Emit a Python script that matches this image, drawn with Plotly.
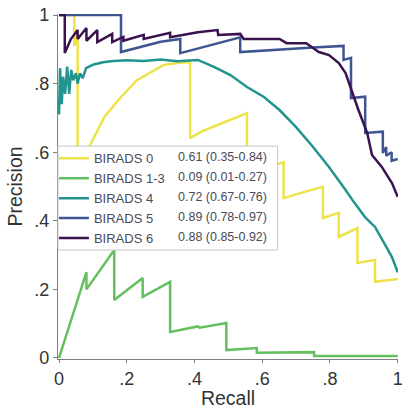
import plotly.graph_objects as go

# ---------------- data ----------------
tick_vals = [0, 0.2, 0.4, 0.6, 0.8, 1.0]
tick_text = ["0", ".2", ".4", ".6", ".8", "1"]

series_names = ["BIRADS 0", "BIRADS 1-3", "BIRADS 4", "BIRADS 5", "BIRADS 6"]
auc_labels = ["0.61 (0.35-0.84)", "0.09 (0.01-0.27)", "0.72 (0.67-0.76)",
              "0.89 (0.78-0.97)", "0.88 (0.85-0.92)"]
colors = ["#eee24a", "#64c05e", "#22948f", "#3f5592", "#3b1250"]

recall_b0 = [0, 0.045, 0.045, 0.055, 0.055, 0.084, 0.134, 0.183, 0.23, 0.308, 0.35, 0.387,
             0.387, 0.42, 0.47, 0.51, 0.555, 0.555, 0.60, 0.663, 0.663, 0.72, 0.779,
             0.779, 0.826, 0.826, 0.881, 0.881, 0.933, 0.933, 1.0]
prec_b0 = [1, 1, 0.91, 0.94, 0.51, 0.606, 0.703, 0.761, 0.81, 0.854, 0.86, 0.863,
           0.641, 0.66, 0.68, 0.697, 0.714, 0.53, 0.55, 0.571, 0.466, 0.483, 0.499,
           0.408, 0.423, 0.353, 0.379, 0.277, 0.286, 0.222, 0.23]

recall_b13 = [0, 0.081, 0.081, 0.163, 0.163, 0.247, 0.247, 0.328, 0.328, 0.41, 0.415,
              0.494, 0.494, 0.584, 0.584, 0.753, 0.753, 1.0]
prec_b13 = [0, 0.25, 0.20, 0.315, 0.169, 0.233, 0.178, 0.222, 0.076, 0.092, 0.088,
            0.102, 0.023, 0.029, 0.015, 0.017, 0.006, 0.006]

recall_b4 = [0, 0.003, 0.008, 0.012, 0.018, 0.024, 0.03, 0.036, 0.042, 0.05, 0.055, 0.062,
             0.07, 0.08, 0.1, 0.13, 0.16, 0.2, 0.25, 0.3, 0.35, 0.41, 0.459, 0.506, 0.555,
             0.605, 0.651, 0.70, 0.75, 0.797, 0.846, 0.866, 0.904, 0.933, 0.96, 0.983, 1.0]
prec_b4 = [0.71, 0.845, 0.74, 0.82, 0.77, 0.85, 0.77, 0.84, 0.81, 0.83, 0.80, 0.83,
           0.816, 0.845, 0.855, 0.862, 0.866, 0.868, 0.866, 0.87, 0.865, 0.869, 0.848,
           0.825, 0.79, 0.761, 0.723, 0.673, 0.615, 0.557, 0.49, 0.461, 0.41, 0.382,
           0.335, 0.294, 0.25]

recall_b5 = [0, 0.183, 0.183, 0.25, 0.30, 0.358, 0.358, 0.42, 0.48, 0.535, 0.535, 0.65,
             0.75, 0.84, 0.84, 0.862, 0.862, 0.904, 0.904, 0.956, 0.956, 0.966, 0.966,
             0.982, 0.982, 1.0]
prec_b5 = [1, 1, 0.892, 0.91, 0.922, 0.93, 0.889, 0.905, 0.92, 0.935, 0.892, 0.9,
           0.905, 0.91, 0.869, 0.875, 0.758, 0.762, 0.656, 0.66, 0.598, 0.615, 0.59,
           0.60, 0.575, 0.58]

recall_b6 = [0, 0.017, 0.017, 0.035, 0.055, 0.055, 0.081, 0.081, 0.113, 0.113, 0.157,
             0.157, 0.19, 0.19, 0.25, 0.25, 0.328, 0.328, 0.41, 0.468, 0.47, 0.535, 0.545,
             0.651, 0.672, 0.73, 0.75, 0.767, 0.797, 0.826, 0.846, 0.866, 0.884, 0.91,
             0.924, 0.953, 0.971, 0.983, 1.0]
prec_b6 = [1, 1, 0.889, 0.93, 0.956, 0.93, 0.962, 0.925, 0.956, 0.921, 0.945,
           0.921, 0.936, 0.925, 0.942, 0.93, 0.948, 0.935, 0.95, 0.956, 0.942, 0.945, 0.93,
           0.93, 0.918, 0.918, 0.904, 0.892, 0.883, 0.86, 0.831, 0.773, 0.723, 0.656,
           0.592, 0.557, 0.528, 0.51, 0.47]

recalls = [recall_b0, recall_b13, recall_b4, recall_b5, recall_b6]
precisions = [prec_b0, prec_b13, prec_b4, prec_b5, prec_b6]

# ---------------- figure ----------------
FONT = "Liberation Sans, Arial, sans-serif"
fig = go.Figure()
for name, r, p, c in zip(series_names, recalls, precisions, colors):
    fig.add_trace(go.Scatter(x=r, y=p, mode="lines", name=name,
                             line=dict(color=c, width=2.5)))

# legend box (white, covers curves)
fig.add_shape(type="rect", xref="paper", yref="paper", x0=0.0, x1=0.646,
              y0=0.316, y1=0.617, line=dict(color="#c8c8c8", width=1),
              fillcolor="white", layer="above")

row_y = [0.586, 0.528, 0.470, 0.412, 0.354]
for txt, yy in zip(auc_labels, row_y):
    fig.add_annotation(xref="paper", yref="paper", x=0.348, y=yy, text=txt,
                       showarrow=False, xanchor="left", yanchor="middle",
                       font=dict(family=FONT, size=12.5, color="#4a4a58"))

fig.update_layout(
    width=403, height=409,
    margin=dict(l=58, r=0, t=14, b=50),
    paper_bgcolor="white", plot_bgcolor="white",
    font=dict(family=FONT, color="#333333"),
    showlegend=True,
    legend=dict(x=-0.012, y=0.625, xanchor="left", yanchor="top",
                bgcolor="rgba(0,0,0,0)", borderwidth=0,
                font=dict(family=FONT, size=13, color="#4a4a58"),
                traceorder="normal"),
    xaxis=dict(range=[-0.003, 1.0008], tickvals=tick_vals, ticktext=tick_text,
               showgrid=False, zeroline=False, showline=True, linecolor="#7f7f7f",
               linewidth=1.2, ticks="outside", ticklen=3, tickcolor="#7f7f7f",
               ticklabeloverflow="allow",
               tickfont=dict(family=FONT, size=18, color="#333333"),
               title=dict(text="Recall", font=dict(family=FONT, size=19.5, color="#333333"),
                          standoff=1)),
    yaxis=dict(range=[-0.003, 1.003], tickvals=tick_vals, ticktext=tick_text,
               showgrid=False, zeroline=False, showline=True, linecolor="#7f7f7f",
               linewidth=1.2, ticks="outside", ticklen=4, tickcolor="#7f7f7f",
               tickfont=dict(family=FONT, size=18, color="#333333"),
               title=dict(text="Precision", font=dict(family=FONT, size=19.5, color="#333333"),
                          standoff=6)),
)

fig.write_html("out.html")
